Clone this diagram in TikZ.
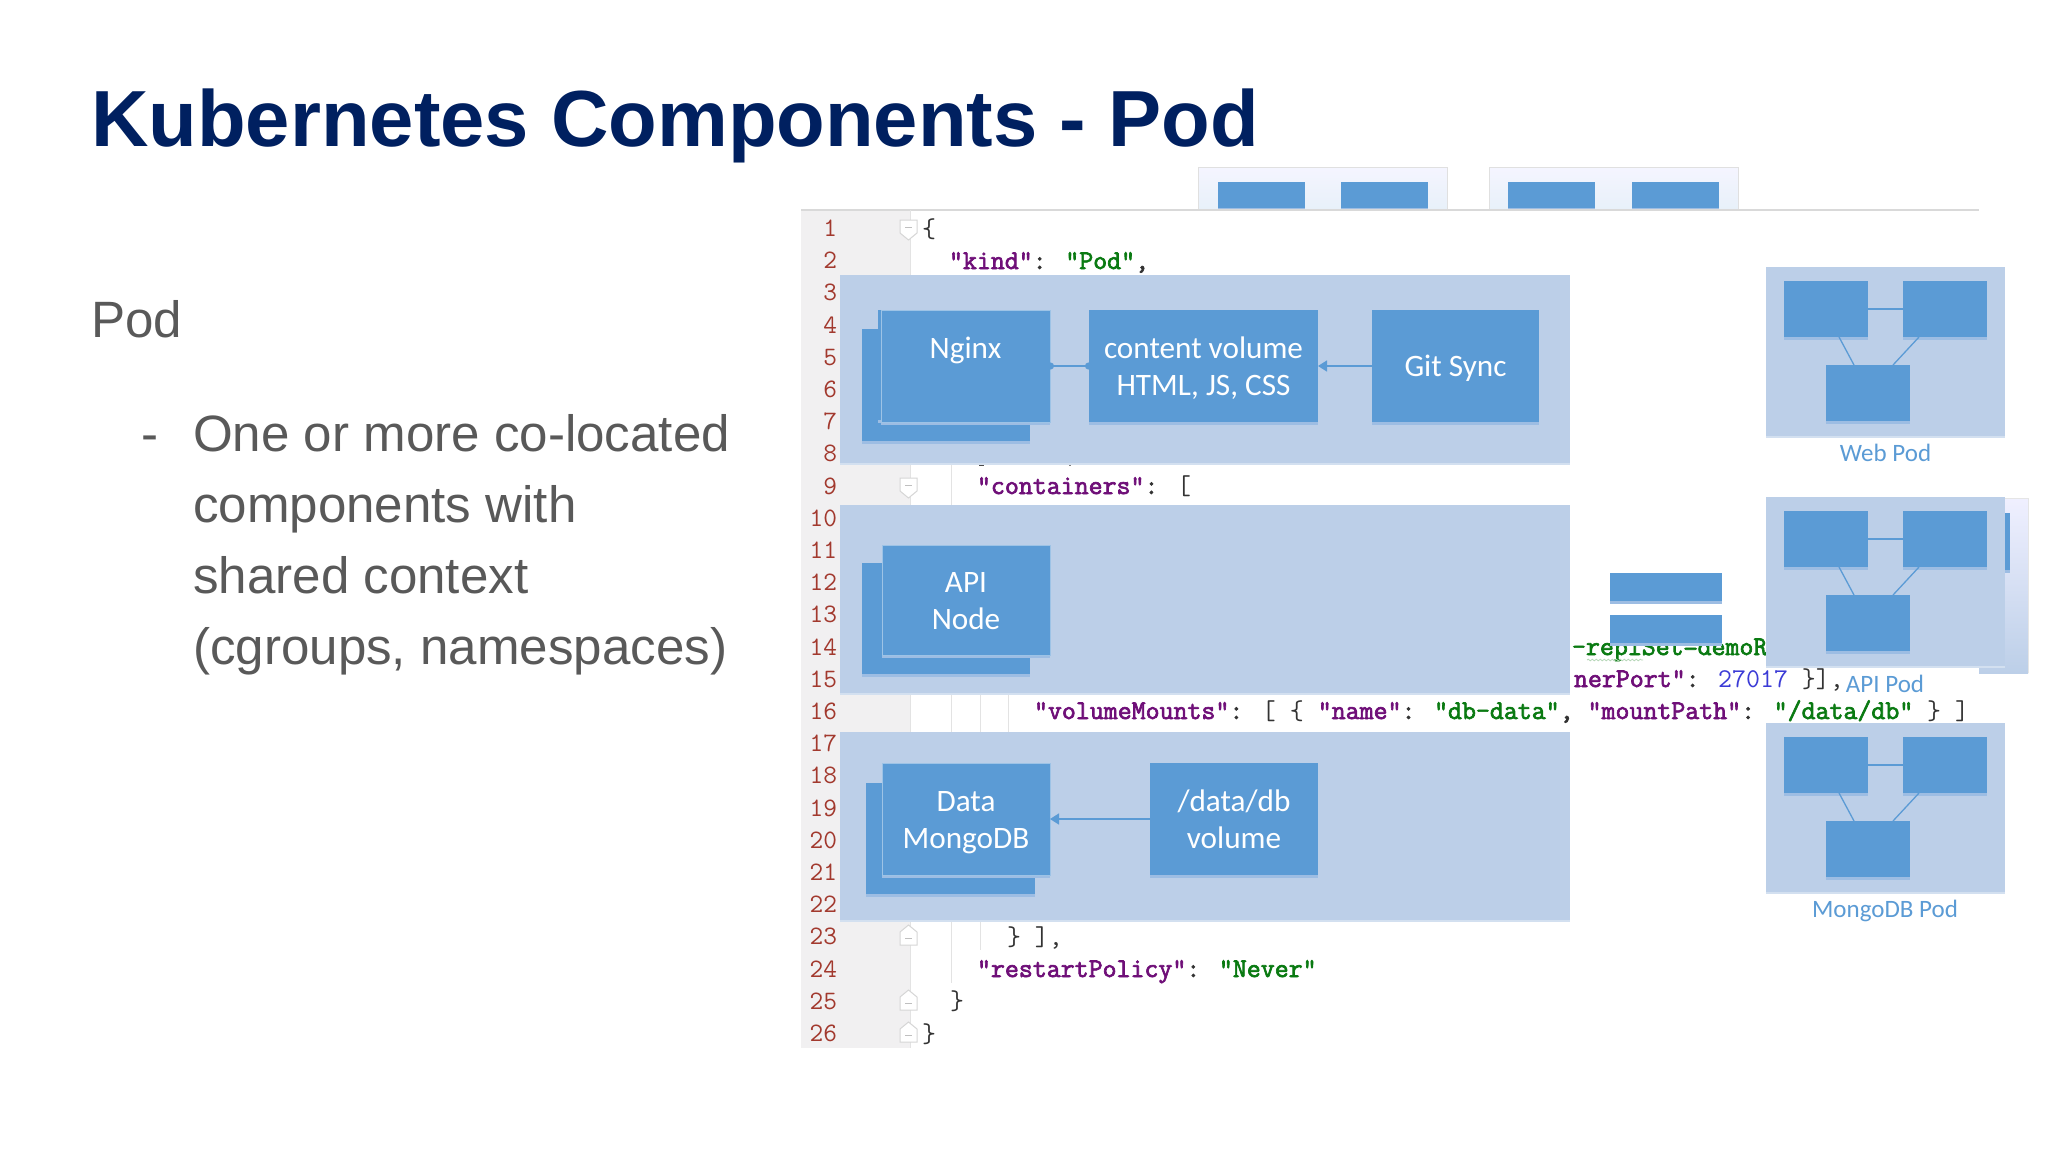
\documentclass[tikz,border=0pt]{standalone}
\usepackage{fontspec}
\setmainfont{Liberation Sans}
\newfontfamily\calib{Carlito}
\newfontfamily\codeb{Latin Modern Mono}[FakeBold=2.5]
\newfontfamily\coder{Latin Modern Mono}
\usetikzlibrary{arrows.meta,decorations.pathmorphing}
\definecolor{bluebox}{HTML}{5B9BD5}
\definecolor{panel}{HTML}{BCCFE8}
\definecolor{shade}{HTML}{9DBDE3}
\definecolor{ckeyc}{HTML}{6F0F78}
\definecolor{cstrc}{HTML}{0A7A12}
\definecolor{cnumc}{HTML}{3B3BD6}
\definecolor{cpunc}{HTML}{333333}
\definecolor{lnum}{HTML}{A2392E}
\definecolor{gut}{HTML}{F1F0F1}
\newcommand{\ck}[1]{{\codeb\textcolor{ckeyc}{#1}}}
\newcommand{\cs}[1]{{\codeb\textcolor{cstrc}{#1}}}
\newcommand{\cb}[1]{{\codeb #1}}
\newcommand{\cn}[1]{\textcolor{cnumc}{#1}}
\newcommand{\st}{\rule[-8pt]{0pt}{37pt}}
\tikzset{
  x=1pt,y=-1pt,
  box/.style={fill=bluebox,inner sep=0pt,outer sep=0pt,text=white,align=center,
    font=\calib\fontsize{31.2}{37}\selectfont,
    preaction={fill=shade,transform canvas={yshift=-3pt}}},
  panelbox/.style={fill=panel,inner sep=0pt,outer sep=0pt,
    preaction={fill=panel!65,transform canvas={yshift=-2pt}}},
  front/.style={box,draw=bluebox!60!white,line width=0.8pt},
  conn/.style={draw=bluebox,line width=1.4pt},
  thin conn/.style={draw=bluebox,line width=1.3pt},
  tip/.style={conn,-{Triangle[length=9pt,width=11pt]}},
  dots/.style={conn,{Circle[length=7pt]}-{Circle[length=7pt]},shorten <=-3pt,shorten >=-3pt},
  code/.style={anchor=base west,inner sep=0pt,outer sep=0pt,text=cpunc,
    font=\coder\fontsize{27.1}{30}\selectfont},
  ln/.style={anchor=base east,inner sep=0pt,outer sep=0pt,text=lnum,
    font=\coder\fontsize{26.6}{30}\selectfont},
  podlabel/.style={inner sep=0pt,text=bluebox,font=\calib\fontsize{25}{30}\selectfont},
  tab/.style={draw=black!12,line width=1pt,top color=white!96!blue,bottom color=bluebox!15!white},
  guide/.style={draw=black!11,line width=1pt},
  body/.style={anchor=base west,inner sep=0pt,text=black!65,font=\fontsize{51.1}{60}\selectfont}
}
% \bx{style}{name}{x1}{y1}{x2}{y2}{text}
\newcommand{\bx}[7]{%
  \pgfmathsetmacro{\cxx}{((#3)+(#5))/2}\pgfmathsetmacro{\cyy}{((#4)+(#6))/2}%
  \pgfmathsetmacro{\www}{(#5)-(#3)}\pgfmathsetmacro{\hhh}{(#6)-(#4)}%
  \node[#1,minimum width=\www pt,minimum height=\hhh pt] (#2) at (\cxx,\cyy) {#7};}
% fold markers
\newcommand{\folddown}[1]{%
  \draw[fill=white,draw=black!16,line width=1pt] (900,#1-9) -- (917,#1-9) -- (917,#1+4) -- (908.5,#1+11) -- (900,#1+4) -- cycle;
  \draw[black!25,line width=1pt] (905,#1-2) -- (912,#1-2);}
\newcommand{\foldup}[1]{%
  \draw[fill=white,draw=black!16,line width=1pt] (900,#1+9) -- (917,#1+9) -- (917,#1-4) -- (908.5,#1-11) -- (900,#1-4) -- cycle;
  \draw[black!25,line width=1pt] (905,#1+2) -- (912,#1+2);}
% \podfig{prefix}{top y}
\newcommand{\podfig}[2]{%
  \bx{panelbox}{#1p}{1766}{#2}{2005}{#2+169}{}
  \bx{box}{#1a}{1784}{#2+14}{1868}{#2+70}{}
  \bx{box}{#1b}{1903}{#2+14}{1987}{#2+70}{}
  \bx{box}{#1c}{1826}{#2+98}{1910}{#2+154}{}
  \draw[thin conn] (#1a.east) -- (#1b.west);
  \draw[thin conn] (1839,#2+70) -- (1854,#2+98);
  \draw[thin conn] (1919,#2+70) -- (1893,#2+98);}
\begin{document}
\begin{tikzpicture}
\useasboundingbox[fill=white] (0,0) rectangle (2048,1152);
% title and body
\node[anchor=base west,inner sep=0pt,font=\bfseries\fontsize{79.6}{90}\selectfont,text={rgb,255:red,0;green,32;blue,96}] (title) at (91,146) {Kubernetes Components - Pod};
\node[body] (pod) at (91,337) {Pod};
\node[body] (dash) at (141,451) {-};
\node[body] (l1) at (193,451) {One or more co-located};
\node[body] (l2) at (193,522) {components with};
\node[body] (l3) at (193,593) {shared context};
\node[body] (l4) at (193,664) {(cgroups, namespaces)};
% tabs behind the editor
\bx{tab}{tabA}{1198}{167}{1447}{212}{}
\bx{tab}{tabB}{1489}{167}{1738}{212}{}
\bx{box}{t1}{1218}{182}{1305}{208}{}
\bx{box}{t2}{1341}{182}{1428}{208}{}
\bx{box}{t3}{1508}{182}{1595}{208}{}
\bx{box}{t4}{1632}{182}{1719}{208}{}
% editor
\fill[white] (801,210) rectangle (1979,1048);
\fill[gut] (801,210) rectangle (910,1048);
\draw[black!15,line width=1.5pt] (801,210) -- (1979,210);
\draw[guide] (910,210) -- (910,1048);
\draw[guide] (951.5,463) -- (951.5,983);
\draw[guide] (980,693) -- (980,950);
\draw[guide] (1008,693) -- (1008,732);
\folddown{229}
\folddown{487}
\foldup{936}
\foldup{1001}
\foldup{1033}
\foreach \n [evaluate=\n as \yy using {229+(\n-1)*32.2+7.5}] in {1,...,26}
  \node[ln] (num\n) at (837,\yy) {\n};
\node[code] (c1) at (922,237) {\{};
\node[code] (c2) at (949,269) {\ck{"kind"}\cb{:} \cs{"Pod"}\cb{,}};
\node[code] (c9) at (977,494) {\ck{"containers"}\cb{:} [};
\node[code] (c14) at (1572,655) {\cs{-replSet=demoR}};
\node[code] (c15) at (1574,687) {\ck{nerPort"}\cb{:} \cn{27017} \}],};
\node[code] (c16) at (1034,719) {\ck{"volumeMounts"}\cb{:} [ \{ \ck{"name"}\cb{:} \cs{"db-data"}\cb{,} \ck{"mountPath"}\cb{:} \cs{"/data/db"} \} ]};
\node[code] (c23) at (1007,945) {\} ],};
\node[code] (c24) at (977,977) {\ck{"restartPolicy"}\cb{:} \cs{"Never"}};
\node[code] (c25) at (950,1009) {\}};
\node[code] (c26) at (922,1042) {\}};
\draw[cstrc!30,line width=.8pt,decorate,decoration={snake,amplitude=.8pt,segment length=4pt}] (1587,660) -- (1643,660);
\fill[black!70] (979,464) rectangle (984,466);
\fill[black!50] (1069,464) rectangle (1071,466);
% centre fragments
\bx{box}{mid1}{1610}{573}{1722}{601}{}
\bx{box}{mid2}{1610}{615}{1722}{643}{}
% big panel 1
\bx{panelbox}{P1}{840}{275}{1570}{463}{}
\bx{box}{ngBack}{862}{329}{1030}{441}{}
\bx{box}{ngMid}{878}{310}{1040}{420}{}
\bx{front}{nginx}{881}{310}{1050}{422}{\st Nginx\\\st}
\bx{box}{content}{1089}{310}{1318}{422}{\st content volume\\\st HTML, JS, CSS}
\bx{box}{git}{1372}{310}{1539}{422}{\st Git Sync}
\draw[dots] (nginx.east) -- (content.west);
\draw[tip] (git.west) -- (content.east);
% big panel 2
\bx{panelbox}{P2}{840}{505}{1570}{693}{}
\bx{box}{apiBack}{862}{563}{1030}{674}{}
\bx{front}{api}{882}{545}{1050}{655}{\st API\\\st Node}
% big panel 3
\bx{panelbox}{P3}{840}{732}{1570}{920}{}
\bx{box}{dbBack}{866}{783}{1035}{894}{}
\bx{front}{data}{882}{763}{1050}{875}{\st Data\\\st MongoDB}
\bx{box}{vol}{1150}{763}{1318}{875}{\st /data/db\\\st volume}
\draw[tip] (vol.west) -- (data.east);
% ghost behind API pod
\shade[top color=white!94!blue,bottom color=panel] (1979,498) rectangle (2028,673);
\draw[black!10,line width=1pt] (2005,498) -- (2028,498) -- (2028,673);
% pods on the right
\podfig{web}{267}
\node[podlabel] (webL) at (1885.5,453) {Web Pod};
\podfig{apip}{497}
\bx{box}{sliver}{2005}{513}{2010}{570}{}
\node[podlabel] (apiL) at (1885,684) {API Pod};
\podfig{mg}{723}
\node[podlabel] (mgL) at (1885,911) {MongoDB Pod};
\end{tikzpicture}
\end{document}
